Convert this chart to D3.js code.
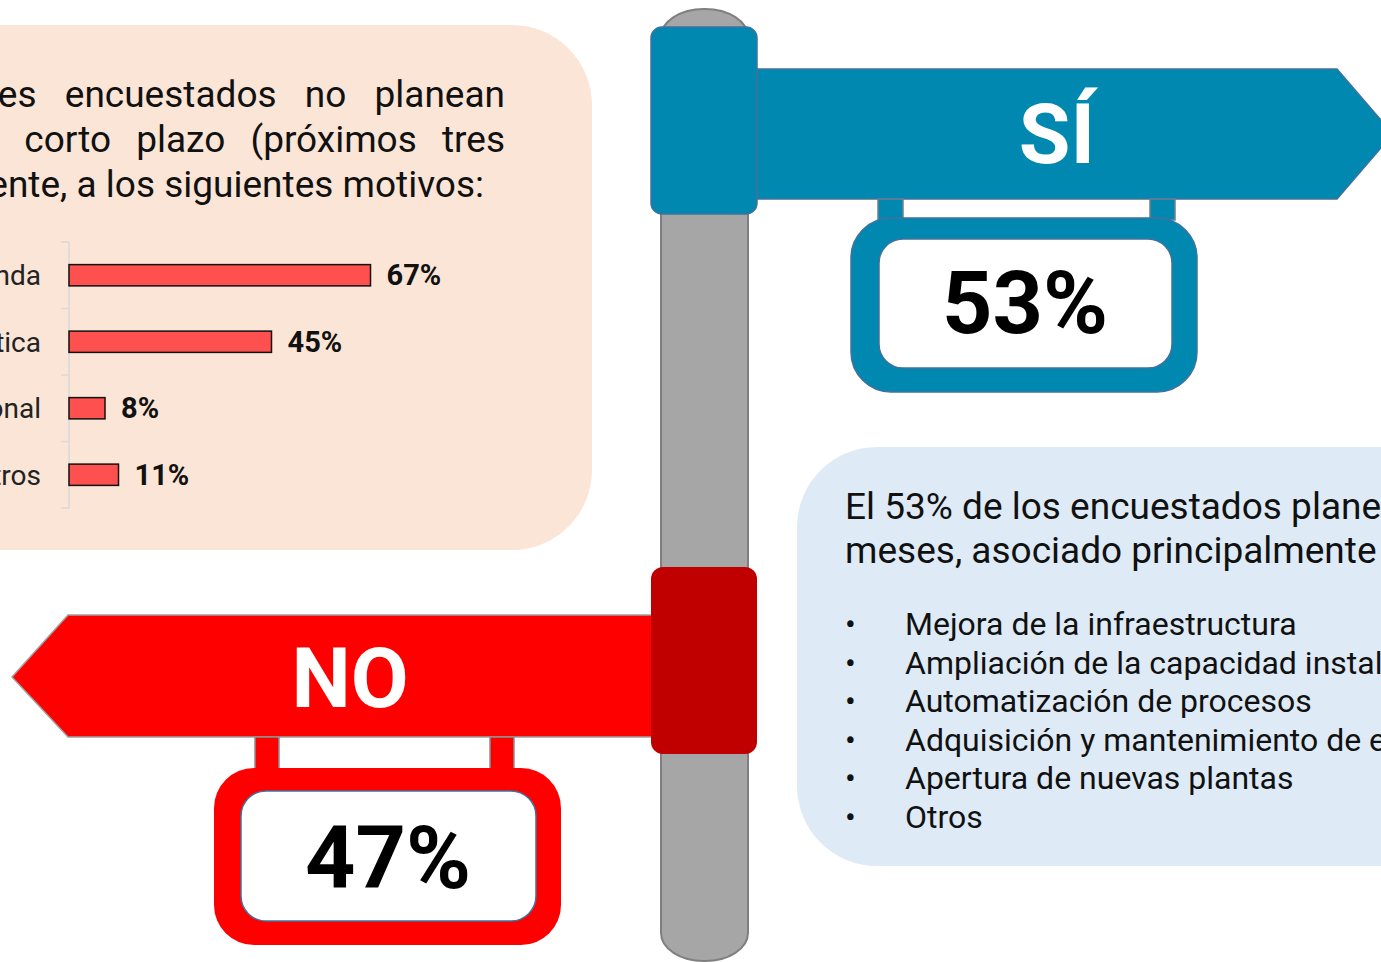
<!DOCTYPE html>
<html>
<head>
<meta charset="utf-8">
<script src="https://cdn.jsdelivr.net/npm/d3@7"></script>
<style>
  html, body { margin: 0; padding: 0; background: #fff; overflow: hidden; }
  text { font-family: Roboto, 'Noto Sans', sans-serif; }
</style>
</head>
<body>
<svg width="1381" height="962"></svg>
<script>
// motivos para no invertir (barras)
const motivos = ['Baja demanda', 'Incertidumbre política', 'Falta de personal', 'Otros']
const motivoValues = [67, 45, 8, 11]

// letreros
const signLabels = ['SÍ', 'NO']
const signValues = [53, 47]

const noLines = [
  'El 47% de los productores encuestados no planean',
  'invertir en el corto plazo (próximos tres',
  'meses), debido principalmente, a los siguientes motivos:'
]
const siLines = [
  'El 53% de los encuestados planean invertir en el corto plazo (próximos tres',
  'meses, asociado principalmente a los siguientes motivos:'
]
const siBullets = [
  'Mejora de la infraestructura',
  'Ampliación de la capacidad instalada',
  'Automatización de procesos',
  'Adquisición y mantenimiento de equipos',
  'Apertura de nuevas plantas',
  'Otros'
]

const svg = d3.select('svg')
const bigFont = "'Liberation Sans Narrow', 'Roboto', sans-serif"
const edge = '#41719C'

// --- cajas de fondo ---
svg.append('rect')
  .attr('x', -120).attr('y', 25).attr('width', 712).attr('height', 525)
  .attr('rx', 80).attr('fill', '#FBE5D6')

svg.append('rect')
  .attr('x', 797).attr('y', 447).attr('width', 700).attr('height', 419)
  .attr('rx', 80).attr('fill', '#DEEBF7')

// texto caja izquierda (justificado, cortado por el borde)
const noSpacing = [19, 16, 0]
noLines.forEach((line, i) => {
  svg.append('text')
    .attr('x', i < 2 ? 505 : 484)
    .attr('y', 107 + i * 45)
    .attr('text-anchor', 'end')
    .attr('font-size', 37)
    .attr('word-spacing', noSpacing[i])
    .attr('fill', '#111')
    .text(line)
})

// --- barras ---
const x = d3.scaleLinear().domain([0, 100]).range([69, 519])
const y = d3.scaleBand().domain(motivos).range([242, 508])
  .paddingInner(0.68).paddingOuter(0.34)

const axisG = svg.append('g')
axisG.append('line')
  .attr('x1', 69).attr('x2', 69).attr('y1', 242).attr('y2', 508)
  .attr('stroke', '#D9D9D9').attr('stroke-width', 1.5)
const bounds = motivos.map(m => y(m) - y.step() * y.paddingInner() / 2)
bounds.push(508)
axisG.selectAll('.tick').data(bounds).join('line')
  .attr('x1', 61).attr('x2', 69).attr('y1', d => d).attr('y2', d => d)
  .attr('stroke', '#D9D9D9').attr('stroke-width', 1.5)

svg.selectAll('.bar').data(motivos).join('rect')
  .attr('class', 'bar')
  .attr('x', x(0))
  .attr('y', d => y(d))
  .attr('width', (d, i) => x(motivoValues[i]) - x(0))
  .attr('height', y.bandwidth())
  .attr('fill', '#FF5050').attr('stroke', '#111').attr('stroke-width', 1.5)

svg.selectAll('.cat').data(motivos).join('text')
  .attr('class', 'cat')
  .attr('x', 41)
  .attr('y', d => y(d) + y.bandwidth() / 2 + 10)
  .attr('text-anchor', 'end')
  .attr('font-size', 28)
  .attr('fill', '#222')
  .text(d => d)

svg.selectAll('.val').data(motivos).join('text')
  .attr('class', 'val')
  .attr('x', (d, i) => x(motivoValues[i]) + 16)
  .attr('y', d => y(d) + y.bandwidth() / 2 + 10)
  .attr('font-size', 29).attr('font-weight', 'bold')
  .attr('fill', '#111')
  .text((d, i) => motivoValues[i] + '%')

// --- poste ---
svg.append('rect')
  .attr('x', 661).attr('y', 9).attr('width', 87).attr('height', 952)
  .attr('rx', 43).attr('ry', 28)
  .attr('fill', '#A6A6A6').attr('stroke', '#7F7F7F').attr('stroke-width', 2)

// --- letrero SÍ ---
svg.append('path')
  .attr('d', 'M757,69 L1337,69 L1393,134 L1337,199 L757,199 Z')
  .attr('fill', '#0088B0').attr('stroke', edge).attr('stroke-width', 1.5)
svg.append('rect')
  .attr('x', 651).attr('y', 27).attr('width', 106).attr('height', 187).attr('rx', 11)
  .attr('fill', '#0088B0').attr('stroke', edge).attr('stroke-width', 1.5)
;[878, 1150].forEach(px => {
  svg.append('rect').attr('x', px).attr('y', 199).attr('width', 25).attr('height', 21)
    .attr('fill', '#0088B0').attr('stroke', '#6F7F8F').attr('stroke-width', 1.5)
})
svg.append('rect')
  .attr('x', 851).attr('y', 218).attr('width', 346).attr('height', 174).attr('rx', 40)
  .attr('fill', '#0088B0').attr('stroke', edge).attr('stroke-width', 1.5)
svg.append('rect')
  .attr('x', 879).attr('y', 239).attr('width', 293).attr('height', 129).attr('rx', 24)
  .attr('fill', '#fff').attr('stroke', edge).attr('stroke-width', 1.5)
svg.append('text')
  .attr('x', 1057).attr('y', 163).attr('text-anchor', 'middle')
  .style('font-family', bigFont).attr('font-weight', 'bold').attr('font-size', 84)
  .attr('fill', '#fff').text(signLabels[0])
svg.append('text')
  .attr('x', 1025).attr('y', 333).attr('text-anchor', 'middle')
  .style('font-family', bigFont).attr('font-weight', 'bold').attr('font-size', 88)
  .attr('fill', '#000').text(signValues[0] + '%')

// --- letrero NO ---
svg.append('path')
  .attr('d', 'M655,615 L68,615 L12,677 L68,737 L655,737 Z')
  .attr('fill', '#FF0000').attr('stroke', '#A0A0A0').attr('stroke-width', 1.5)
svg.append('rect')
  .attr('x', 651).attr('y', 567).attr('width', 106).attr('height', 187).attr('rx', 12)
  .attr('fill', '#C00000')
;[255, 490].forEach(px => {
  svg.append('rect').attr('x', px).attr('y', 737).attr('width', 24).attr('height', 33)
    .attr('fill', '#FF0000').attr('stroke', '#8F8F8F').attr('stroke-width', 1.5)
})
svg.append('rect')
  .attr('x', 214).attr('y', 768).attr('width', 347).attr('height', 177).attr('rx', 40)
  .attr('fill', '#FF0000')
svg.append('rect')
  .attr('x', 241).attr('y', 791).attr('width', 295).attr('height', 130).attr('rx', 25)
  .attr('fill', '#fff').attr('stroke', edge).attr('stroke-width', 1.5)
svg.append('text')
  .attr('x', 350).attr('y', 707).attr('text-anchor', 'middle')
  .style('font-family', bigFont).attr('font-weight', 'bold').attr('font-size', 84)
  .attr('fill', '#fff').text(signLabels[1])
svg.append('text')
  .attr('x', 388).attr('y', 888).attr('text-anchor', 'middle')
  .style('font-family', bigFont).attr('font-weight', 'bold').attr('font-size', 88)
  .attr('fill', '#000').text(signValues[1] + '%')

// --- texto caja derecha ---
siLines.forEach((line, i) => {
  svg.append('text')
    .attr('x', 845).attr('y', 519 + i * 44)
    .attr('font-size', 37).attr('fill', '#111')
    .text(line)
})
siBullets.forEach((item, i) => {
  const by = 635 + i * 38.5
  svg.append('text').attr('x', 845).attr('y', by)
    .attr('font-size', 32).attr('fill', '#111').text('•')
  svg.append('text').attr('x', 905).attr('y', by)
    .attr('font-size', 32).attr('fill', '#111').text(item)
})
</script>
</body>
</html>
